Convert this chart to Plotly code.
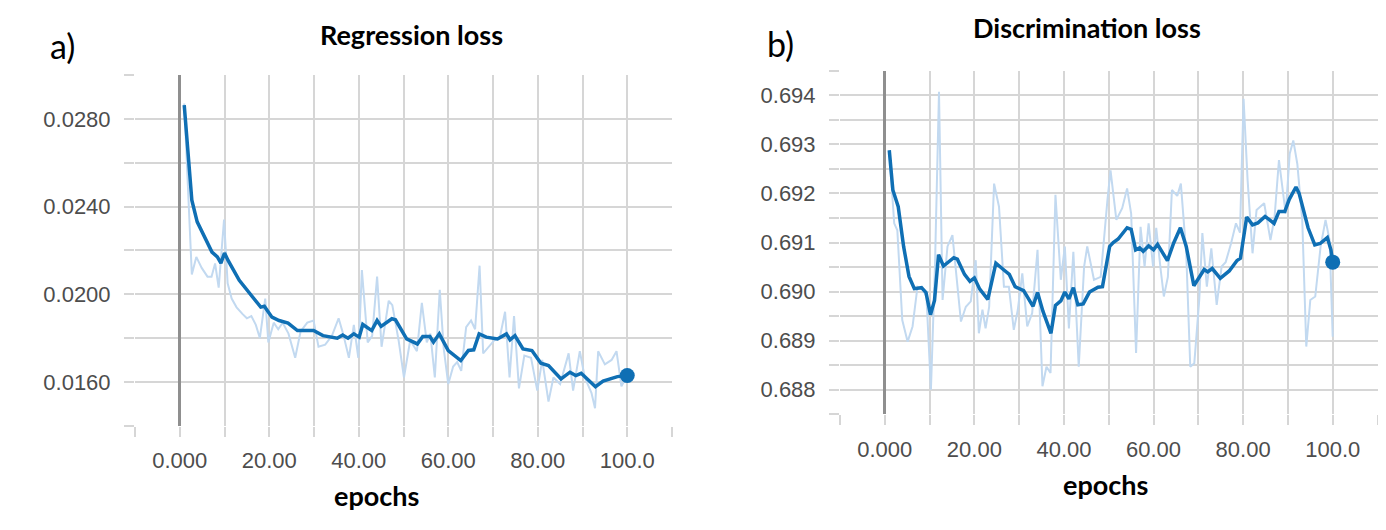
import plotly.graph_objects as go

# ---- data ----
# a) Regression loss : raw (light) and smoothed (dark) curves
reg_raw_epoch = [1, 2, 2.7, 3.7, 4.9, 6.2, 7.1, 7.9, 8.7, 9.9, 10.7, 11.6, 12.7, 14, 15, 16, 17, 17.9,
                 19.1, 19.8, 21, 22, 23, 24.3, 25.8, 27, 28.5, 29.9, 31, 32.5, 34, 35.5, 36.5, 37.8,
                 38.9, 39.9, 40.7, 42, 43, 44.1, 45.1, 46.7, 47.5, 48.9, 50.1, 51.5, 53, 54.1, 55.2,
                 56, 57, 58.1, 59, 60, 61.1, 62, 62.9, 64, 65.1, 66, 67, 67.8, 69, 70.3, 71.5, 72.7,
                 73.7, 74.7, 75.8, 77, 78.5, 79.9, 81, 82.4, 83.5, 85, 86.9, 87.9, 89.4, 90.5, 92,
                 92.8, 93.5, 95, 96.5, 97.6, 98.7, 100]
reg_raw_loss = [0.0287, 0.0242, 0.0209, 0.0217, 0.0212, 0.0208, 0.0208, 0.0214, 0.0203, 0.0234,
                0.0205, 0.0198, 0.0194, 0.0191, 0.0189, 0.0190, 0.0186, 0.0180, 0.0198, 0.0178,
                0.0187, 0.0184, 0.0187, 0.0182, 0.0171, 0.0183, 0.0187, 0.0188, 0.0176, 0.0177,
                0.0181, 0.0189, 0.0182, 0.0171, 0.0186, 0.0171, 0.0211, 0.0178, 0.0181, 0.0208,
                0.0176, 0.0197, 0.0195, 0.0179, 0.0162, 0.0179, 0.0174, 0.0196, 0.0178, 0.0182,
                0.0162, 0.0202, 0.0175, 0.0159, 0.0167, 0.0169, 0.0165, 0.0185, 0.0188, 0.0184,
                0.0213, 0.0173, 0.0176, 0.0179, 0.0180, 0.0192, 0.0162, 0.0190, 0.0157, 0.0172,
                0.0171, 0.0156, 0.0170, 0.0151, 0.0162, 0.0159, 0.0173, 0.0156, 0.0174, 0.0162,
                0.0155, 0.0148, 0.0174, 0.0168, 0.0170, 0.0174, 0.0158, 0.0163]

reg_smooth_epoch = [1, 1.9, 2.7, 3.9, 5.5, 7.2, 8.4, 9.2, 10, 10.8, 13.3, 15.7, 18.1, 18.9, 20.6,
                    22.2, 24.2, 26.3, 29.9, 32, 35.2, 36.4, 37.6, 38.9, 40.1, 40.9, 42.9, 44.1,
                    45, 47.4, 48.2, 50.7, 53.1, 54.3, 55.9, 56.7, 58, 60, 62.8, 64.5, 65.7, 66.9,
                    68.5, 71, 73, 73.8, 74.9, 76.7, 78.7, 80.7, 82.4, 85.2, 87.2, 88.5, 89.7,
                    92.9, 94.6, 97.8, 100]
reg_smooth_loss = [0.02863, 0.02657, 0.02429, 0.02330, 0.02261, 0.02192, 0.02170, 0.02142, 0.02188,
                   0.02154, 0.02063, 0.02002, 0.01941, 0.01945, 0.01895, 0.01880, 0.01868, 0.01834,
                   0.01834, 0.01811, 0.01799, 0.01814, 0.01799, 0.01819, 0.01804, 0.01862, 0.01834,
                   0.01880, 0.01853, 0.01888, 0.01883, 0.01796, 0.01773, 0.01807, 0.01807, 0.01781,
                   0.01819, 0.01743, 0.01697, 0.01743, 0.01746, 0.01819, 0.01804, 0.01796, 0.01819,
                   0.01792, 0.01811, 0.01750, 0.01743, 0.01685, 0.01674, 0.01613, 0.01644, 0.01629,
                   0.01639, 0.01578, 0.01603, 0.01624, 0.01629]

# b) Discrimination loss
dis_raw_epoch = [1, 2.1, 2.8, 3.9, 5.1, 6.2, 7.3, 8.4, 9.3, 10.3, 11.2, 12.1, 12.9, 14, 15.1, 15.8,
                 17, 18.1, 19.2, 20.3, 21, 21.8, 22.5, 23.3, 24.4, 25.5, 26.6, 27.7, 28.8, 29.7,
                 30.7, 31.8, 32.9, 34.1, 35.2, 36.1, 37, 38.1, 39.3, 40.2, 41.1, 42.1, 43.3, 44.5,
                 45.2, 46.7, 48.2, 49.7, 50.4, 51.7, 53, 54.1, 55, 56.1, 57.1, 58, 58.9, 59.9,
                 60.6, 61.6, 62.3, 63.2, 64.1, 65.3, 66.1, 67.3, 68.2, 69.1, 70.2, 70.9, 71.9,
                 72.9, 74.1, 75.2, 76.1, 77.3, 78.4, 79.3, 80.1, 81, 82.1, 83, 84.7, 86.1, 87,
                 88, 89.5, 90.4, 91.2, 92.1, 93.2, 94.1, 95, 96.1, 97.3, 98.4, 99.3, 100]
dis_raw_loss = [0.69288, 0.69139, 0.69125, 0.68942, 0.68898, 0.68929, 0.69010, 0.69005, 0.68990,
                0.68800, 0.69051, 0.69407, 0.68983, 0.69092, 0.69115, 0.69050, 0.68939, 0.68969,
                0.68980, 0.69064, 0.68915, 0.68963, 0.68925, 0.68969, 0.69220, 0.69173, 0.69010,
                0.69010, 0.68922, 0.68963, 0.69037, 0.68929, 0.68956, 0.69085, 0.68807, 0.68847,
                0.68834, 0.69197, 0.69024, 0.69092, 0.68925, 0.69081, 0.68847, 0.69051, 0.69092,
                0.69024, 0.69030, 0.69186, 0.69247, 0.69146, 0.69170, 0.69210, 0.69159, 0.68875,
                0.69132, 0.69051, 0.69139, 0.69051, 0.69130, 0.69044, 0.68990, 0.69030, 0.69207,
                0.69195, 0.69220, 0.69078, 0.68847, 0.68854, 0.68983, 0.69119, 0.69010, 0.69088,
                0.68973, 0.69051, 0.69060, 0.69098, 0.69139, 0.69120, 0.69393, 0.69227, 0.69078,
                0.69166, 0.69180, 0.69105, 0.69150, 0.69268, 0.69159, 0.69281, 0.69308, 0.69260,
                0.69146, 0.68888, 0.68983, 0.68990, 0.69092, 0.69146, 0.69105, 0.68908]

dis_smooth_epoch = [1, 1.8, 3, 4.2, 5.4, 6.6, 8.2, 9.2, 10.2, 11.1, 12, 13.1, 15.4, 16.2, 17.8, 19,
                    20, 21.2, 23, 24.8, 26.6, 27.8, 29.1, 31, 33.1, 34.1, 35.3, 37.1, 38.1, 39.3,
                    40.2, 41.1, 42.1, 43.1, 44.3, 45.7, 47.6, 48.6, 50.2, 51, 52.1, 54.1, 55, 56,
                    56.9, 57.7, 58.9, 60, 60.9, 63.1, 64.5, 66, 67.3, 69, 71.3, 72.1, 73.1, 74.9,
                    76.9, 78.6, 79.4, 80.8, 82.1, 83.3, 84.9, 86.9, 88, 89.3, 90.3, 91.8, 92.5,
                    94.5, 96, 97.2, 98.8, 99.6, 100]
dis_smooth_loss = [0.69288, 0.69207, 0.69173, 0.69092, 0.69031, 0.69006, 0.69008, 0.68998, 0.68953,
                   0.68982, 0.69075, 0.69052, 0.69069, 0.69066, 0.69035, 0.69021, 0.69028, 0.69005,
                   0.68984, 0.69058, 0.69044, 0.69035, 0.69010, 0.69002, 0.68970, 0.68998, 0.68960,
                   0.68915, 0.68972, 0.68981, 0.68999, 0.68985, 0.69008, 0.68973, 0.68975, 0.68999,
                   0.69009, 0.69010, 0.69092, 0.69100, 0.69107, 0.69130, 0.69127, 0.69085, 0.69089,
                   0.69082, 0.69093, 0.69085, 0.69096, 0.69063, 0.69099, 0.69130, 0.69092, 0.69012,
                   0.69045, 0.69040, 0.69047, 0.69027, 0.69042, 0.69063, 0.69068, 0.69152, 0.69136,
                   0.69140, 0.69153, 0.69139, 0.69163, 0.69163, 0.69188, 0.69213, 0.69200, 0.69130,
                   0.69095, 0.69098, 0.69110, 0.69085, 0.69060]

# tick labels
x_tick_vals = [0, 20, 40, 60, 80, 100]
x_tick_text = ["0.000", "20.00", "40.00", "60.00", "80.00", "100.0"]
reg_tick_vals = [0.016, 0.020, 0.024, 0.028]
reg_tick_text = ["0.0160", "0.0200", "0.0240", "0.0280"]
dis_tick_vals = [0.688, 0.689, 0.690, 0.691, 0.692, 0.693, 0.694]
dis_tick_text = ["0.688", "0.689", "0.690", "0.691", "0.692", "0.693", "0.694"]

W, H = 1386, 530
OFF = 8  # the page body margin shifts the plot by 8px
DARK = "#0f6fb4"
LIGHT = "#c2d9f0"
GRID = "#d6d6d6"
TICKFONT = dict(family="Liberation Sans, Arial, sans-serif", size=22, color="#4d4d4d")
TEXTFONT = "Lato, Calibri, sans-serif"


def px(x, y):
    return (x - OFF) / W, 1 - (y - OFF) / H


def xdom(a, b):
    return [(a - OFF) / W, (b - OFF) / W]


def ydom(top, bottom):
    return [1 - (bottom - OFF) / H, 1 - (top - OFF) / H]


fig = go.Figure()

for xs, ys, xa, ya in [(reg_raw_epoch, reg_raw_loss, "x", "y"),
                       (dis_raw_epoch, dis_raw_loss, "x2", "y2")]:
    fig.add_trace(go.Scatter(x=xs, y=ys, mode="lines", xaxis=xa, yaxis=ya,
                             line=dict(color=LIGHT, width=2), hoverinfo="skip"))

for xs, ys, xa, ya in [(reg_smooth_epoch, reg_smooth_loss, "x", "y"),
                       (dis_smooth_epoch, dis_smooth_loss, "x2", "y2")]:
    fig.add_trace(go.Scatter(x=xs, y=ys, mode="lines", xaxis=xa, yaxis=ya,
                             line=dict(color=DARK, width=3.5)))
    # end-of-run dot
    fig.add_trace(go.Scatter(x=xs[-1:], y=ys[-1:], mode="markers", xaxis=xa, yaxis=ya,
                             marker=dict(color=DARK, size=15)))


def xaxis(domain, anchor):
    return dict(domain=domain, anchor=anchor, range=[-10, 110],
                tickvals=x_tick_vals, ticktext=x_tick_text, tickfont=TICKFONT,
                showgrid=True, gridcolor=GRID, gridwidth=2,
                ticks="outside", ticklen=10, tickwidth=2, tickcolor=GRID,
                ticklabelstandoff=5,
                minor=dict(dtick=10, tick0=0, showgrid=True, gridcolor=GRID, gridwidth=2,
                           ticks="outside", ticklen=10, tickwidth=2, tickcolor=GRID),
                zeroline=True, zerolinecolor="#8f8f8f", zerolinewidth=2.5,
                showline=False, fixedrange=True)


def yaxis(domain, anchor, rng, vals, text, step):
    return dict(domain=domain, anchor=anchor, range=rng,
                tickvals=vals, ticktext=text, tickfont=TICKFONT,
                showgrid=True, gridcolor=GRID, gridwidth=2,
                ticks="outside", ticklen=10, tickwidth=2, tickcolor=GRID,
                ticklabelstandoff=9,
                minor=dict(dtick=step, tick0=rng[0], showgrid=True, gridcolor=GRID, gridwidth=2,
                           ticks="outside", ticklen=10, tickwidth=2, tickcolor=GRID),
                zeroline=False, showline=False, fixedrange=True)


fig.update_layout(
    width=W, height=H,
    margin=dict(l=0, r=0, t=0, b=0),
    paper_bgcolor="white", plot_bgcolor="white",
    showlegend=False,
    xaxis=xaxis(xdom(135, 672), "y"),
    yaxis=yaxis(ydom(75, 425.7), "x", [0.014, 0.030],
                reg_tick_vals, reg_tick_text, 0.002),
    xaxis2=xaxis(xdom(840, 1377.5), "y2"),
    yaxis2=yaxis(ydom(70.7, 414.3), "x2", [0.6875, 0.6945],
                 dis_tick_vals, dis_tick_text, 0.0005),
)

labels = [
    ("a)", 62, 46, 34, False),
    ("Regression loss", 412, 35, 27, True),
    ("epochs", 376, 495, 27, True),
    ("b)", 780, 44, 34, False),
    ("Discrimination loss", 1087, 28, 27, True),
    ("epochs", 1105, 484, 27, True),
]
for text, x, y, size, bold in labels:
    ax, ay = px(x, y)
    fig.add_annotation(text=f"<b>{text}</b>" if bold else text, x=ax, y=ay,
                       xref="paper", yref="paper", showarrow=False,
                       xanchor="center", yanchor="middle",
                       font=dict(family=TEXTFONT, size=size, color="black"))

fig.write_html("out.html")
